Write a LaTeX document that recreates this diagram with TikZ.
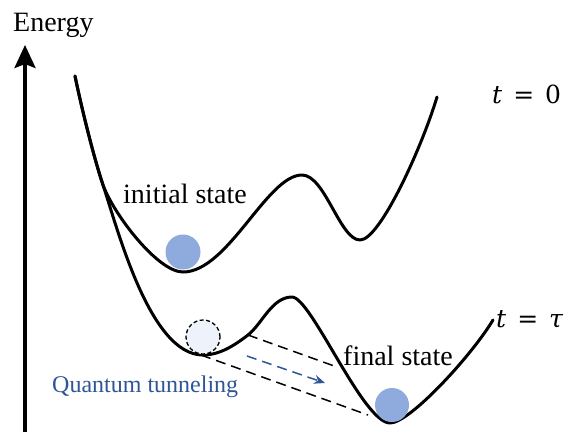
\documentclass[tikz,border=0pt]{standalone}
\usepackage{fontspec}
\setmainfont{Liberation Serif}
\newfontfamily\mfont{DejaVu Serif}
\usetikzlibrary{arrows.meta}
\definecolor{ballblue}{RGB}{143,170,220}
\definecolor{ghost}{RGB}{238,242,250}
\definecolor{tunblue}{RGB}{47,85,151}
\tikzset{
  curve/.style={line width=3pt, line join=round, line cap=round},
  tunnel/.style={line width=1.5pt, dash pattern=on 10pt off 6pt},
  lbl/.style={anchor=base west, inner sep=0pt, font=\fontsize{28}{30}\selectfont},
  mlbl/.style={anchor=base west, inner sep=0pt, font=\mfont\fontsize{25}{30}\selectfont},
}
\begin{document}
\begin{tikzpicture}[x=1pt,y=-1pt]
\useasboundingbox (0,0) rectangle (576,432);
% axis
\coordinate (axb) at (25,432);
\coordinate (axt) at (25,45);
\draw[line width=3.6pt, -{Stealth[width=21pt,length=23pt,inset=4pt]}] (axb) -- (axt);
\node[lbl] (energy) at (13,31) {Energy};
% shared start
\coordinate (top) at (75,76);
\coordinate (split) at (103,185);
% upper curve t=0
\draw[curve] (top) .. controls (82,110) and (94,158) .. (split)
  .. controls (114,215) and (158,272) .. (183,272)
  .. controls (228,272) and (267,175) .. (302,175)
  .. controls (325,175) and (340,240) .. (360,240)
  .. controls (380,240) and (422,147) .. (437,97);
% lower curve t=tau
\draw[curve] (top) .. controls (82,110) and (94,158) .. (split)
  .. controls (118,230) and (150,355) .. (203,355)
  .. controls (220,355) and (235,345) .. (248,335)
  .. controls (262,324) and (272,297) .. (292,297)
  .. controls (311,297) and (363,423) .. (390,423)
  .. controls (410,423) and (472,355) .. (493,320);
% balls
\node[circle, fill=ballblue, minimum size=35pt, inner sep=0pt] (ini) at (183,252) {};
\node[circle, fill=ghost, draw=black, dash pattern=on 4pt off 2.5pt, line width=1.3pt, minimum size=34pt, inner sep=0pt] (ghostball) at (203,337) {};
\node[circle, fill=ballblue, minimum size=34pt, inner sep=0pt] (fin) at (392,405) {};
% tunneling lines
\coordinate (a1) at (248,335);
\coordinate (a2) at (337,367);
\coordinate (b1) at (201,355);
\coordinate (b2) at (368,415);
\coordinate (c1) at (247,356);
\coordinate (c2) at (325,383);
\draw[tunnel] (a1) -- (a2);
\draw[tunnel] (b1) -- (b2);
\draw[tunnel, tunblue, -{Stealth[width=9pt,length=11pt]}] (c1) -- (c2);
% labels
\node[lbl] (initial) at (123,203) {initial state};
\node[lbl] (final) at (343,365) {final state};
\node[lbl, text=tunblue, font=\fontsize{24}{26}\selectfont] (qt) at (52,392) {Quantum tunneling};
\node[mlbl] (t0) at (492,103) {\itshape t\upshape\hspace{11pt}=\hspace{11pt}0};
\node[mlbl] (ttau) at (496,327) {\itshape t\upshape\hspace{11pt}=\hspace{11pt}\itshape τ};
\end{tikzpicture}
\end{document}
